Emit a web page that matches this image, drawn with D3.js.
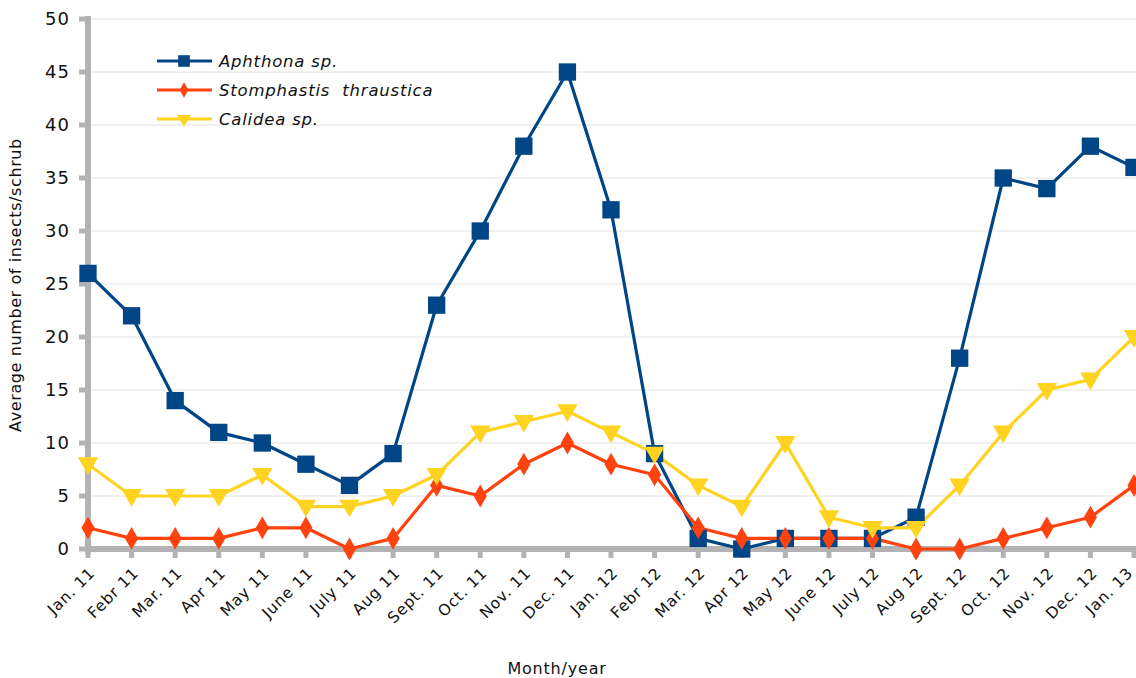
<!DOCTYPE html>
<html><head><meta charset="utf-8">
<script src="https://cdn.jsdelivr.net/npm/d3@7"></script>
<style>body{margin:0;background:#fff}svg{display:block}text{font-family:"DejaVu Sans",Verdana,sans-serif}</style>
</head><body><svg id="c" width="1136" height="678"></svg>
<script>
const months = ["Jan. 11","Febr 11","Mar. 11","Apr 11","May 11","June 11","July 11","Aug 11","Sept. 11","Oct. 11","Nov. 11","Dec. 11","Jan. 12","Febr 12","Mar. 12","Apr 12","May 12","June 12","July 12","Aug 12","Sept. 12","Oct. 12","Nov. 12","Dec. 12","Jan. 13"];
const aphthona = [26,22,14,11,10,8,6,9,23,30,38,45,32,9,1,0,1,1,1,3,18,35,34,38,36];
const stomphastis = [2,1,1,1,2,2,0,1,6,5,8,10,8,7,2,1,1,1,1,0,0,1,2,3,6];
const calidea = [8,5,5,5,7,4,4,5,7,11,12,13,11,9,6,4,10,3,2,2,6,11,15,16,20];
const seriesNames = ["Aphthona sp.","Stomphastis  thraustica","Calidea sp."];
const yTicks = [0,5,10,15,20,25,30,35,40,45,50];

const svg = d3.select("#c");
const x = d3.scalePoint().domain(months).range([88,1134]);
const y = d3.scaleLinear().domain([0,50]).range([549,19]);

// grid
svg.append("g").selectAll("line").data(yTicks.filter(d=>d>0)).join("line")
  .attr("x1",88).attr("x2",1136).attr("y1",d=>y(d)).attr("y2",d=>y(d))
  .attr("stroke","#e3e3e3").attr("stroke-width",1);

const series = [
  {name:seriesNames[0], values:aphthona, color:"#004586", sym:d3.symbolSquare, size:300},
  {name:seriesNames[1], values:stomphastis, color:"#ff420e", sym:d3.symbolDiamond, size:150},
  {name:seriesNames[2], values:calidea, color:"#ffd320", sym:d3.symbolTriangle, size:180}
];

// axes (thick grey)
const axCol = "#b3b3b3";
svg.append("line").attr("x1",88).attr("x2",88).attr("y1",16).attr("y2",553).attr("stroke",axCol).attr("stroke-width",6);
svg.append("g").selectAll("line").data(yTicks).join("line")
  .attr("x1",79).attr("x2",88).attr("y1",d=>y(d)).attr("y2",d=>y(d)).attr("stroke",axCol).attr("stroke-width",5);
svg.append("g").selectAll("text").data(yTicks).join("text")
  .attr("x",70).attr("y",d=>y(d)).attr("dy","0.36em").attr("text-anchor","end")
  .attr("font-size",18).attr("letter-spacing",1).attr("fill","#111").text(d=>d);
svg.append("line").attr("x1",85).attr("x2",1136).attr("y1",549).attr("y2",549).attr("stroke",axCol).attr("stroke-width",6);
svg.append("g").selectAll("line").data(months).join("line")
  .attr("x1",d=>x(d)).attr("x2",d=>x(d)).attr("y1",549).attr("y2",558).attr("stroke",axCol).attr("stroke-width",5);
svg.append("g").selectAll("text").data(months).join("text")
  .attr("transform",d=>`translate(${Math.min(x(d)+4,1130)},${570}) rotate(-45)`)
  .attr("text-anchor","end").attr("dy","0.35em")
  .attr("font-size",15.5).attr("letter-spacing",0.8).attr("fill","#111").text(d=>d);

// lines
const line = d3.line().x((d,i)=>x(months[i])).y(d=>y(d));
const symRot = s => s.sym===d3.symbolTriangle ? "rotate(180)" : "";
series.forEach(s=>{
  svg.append("path").datum(s.values).attr("d",line).attr("fill","none")
    .attr("stroke",s.color).attr("stroke-width",3.2).attr("stroke-linejoin","round");
});
series.forEach(s=>{
  svg.append("g").selectAll("path").data(s.values).join("path")
    .attr("transform",(d,i)=>`translate(${x(months[i])},${y(d)+(s.sym===d3.symbolTriangle?-1:0)}) ${symRot(s)}`)
    .attr("d",d3.symbol().type(s.sym).size(s.size)).attr("fill",s.color);
});

// legend
const lg = svg.append("g");
series.forEach((s,i)=>{
  const ly = 61 + i*29;
  lg.append("line").attr("x1",157).attr("x2",212).attr("y1",ly).attr("y2",ly).attr("stroke",s.color).attr("stroke-width",3.2);
  lg.append("path").attr("transform",`translate(184,${ly}) ${symRot(s)}`)
    .attr("d",d3.symbol().type(s.sym).size(s.size*0.45)).attr("fill",s.color);
  lg.append("text").attr("x",219).attr("y",ly).attr("dy","0.36em").attr("font-size",16.5)
    .attr("font-style","italic").attr("letter-spacing",0.8).attr("xml:space","preserve").attr("fill","#111").text(s.name);
});

// axis titles
svg.append("text").attr("transform","translate(21,285) rotate(-90)").attr("text-anchor","middle")
  .attr("font-size",16).attr("letter-spacing",0.6).attr("fill","#111").text("Average number of insects/schrub");
svg.append("text").attr("x",557).attr("y",674).attr("text-anchor","middle")
  .attr("font-size",16).attr("letter-spacing",0.8).attr("fill","#111").text("Month/year");
</script></body></html>
